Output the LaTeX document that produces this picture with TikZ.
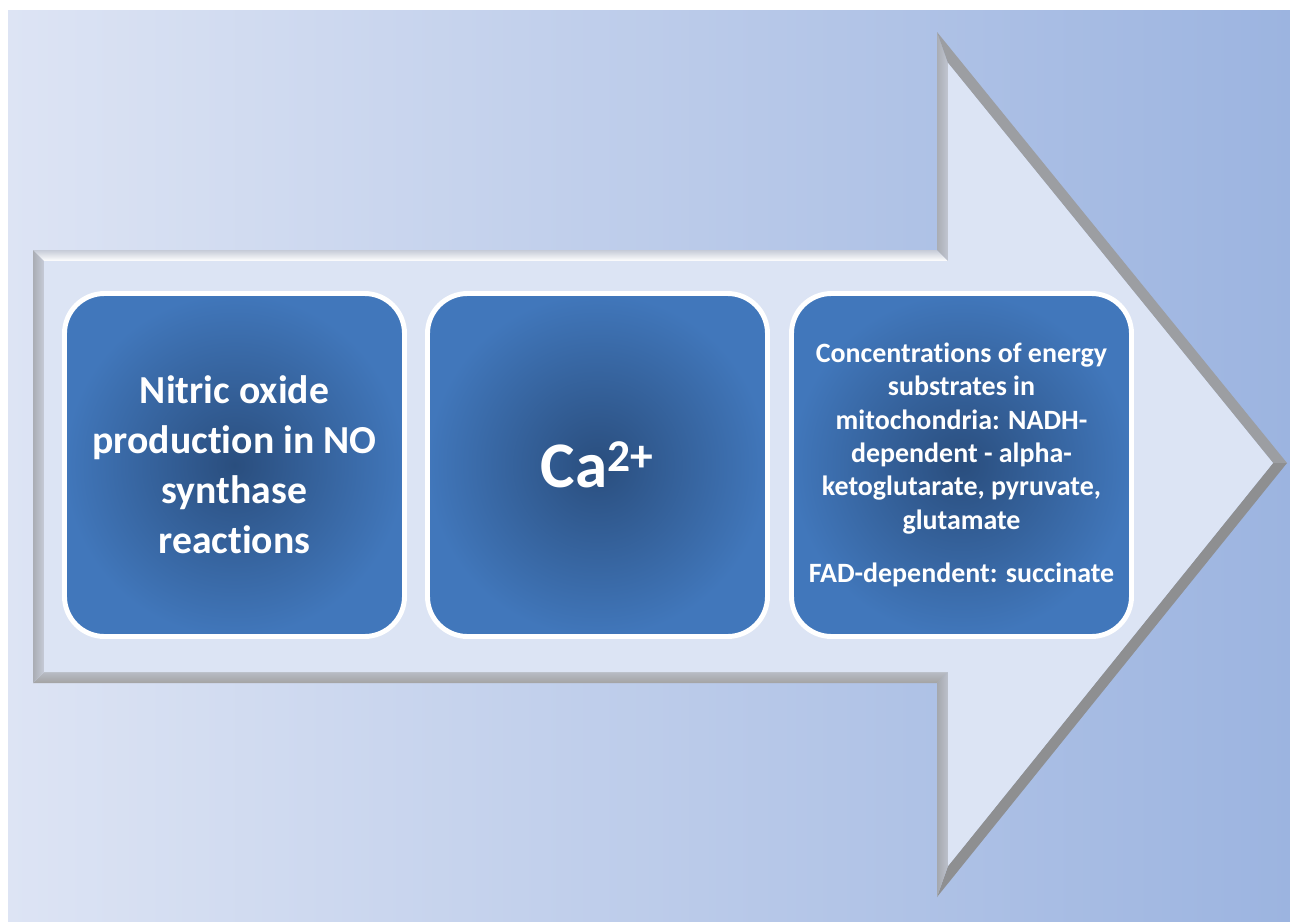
\documentclass[tikz,border=0pt]{standalone}
\usepackage{fontspec}
\setmainfont{Carlito}[Ligatures=NoCommon]
\usetikzlibrary{positioning}

\definecolor{bgleft}{HTML}{DDE4F4}
\definecolor{bgright}{HTML}{9CB4E0}
\definecolor{arrowface}{HTML}{DCE4F4}
\definecolor{boxinner}{HTML}{2A4E7E}
\definecolor{boxouter}{HTML}{4177BB}

\tikzset{
  stagebox/.style={rectangle, rounded corners=8mm, draw=white, line width=2.8pt,
    inner color=boxinner, outer color=boxouter, text=white,
    align=center, minimum width=6.8cm, minimum height=6.86cm, inner sep=0pt},
  bevel/.style={draw=none}
}

\begin{document}
\begin{tikzpicture}[x=0.2mm, y=-0.2mm]
    \useasboundingbox (0,0) rectangle (1290,922);
    \fill[white] (0,0) rectangle (1290,922);

    % Background
    \shade[left color=bgleft, right color=bgright] (8,10) rectangle (1290,922);

    % Big arrow: outer outline and bevel strips
    \coordinate (A) at (33,250);  \coordinate (a) at (44,261);
    \coordinate (B) at (937,250); \coordinate (b) at (948,261);
    \coordinate (C) at (937,32);  \coordinate (c) at (948,63);
    \coordinate (D) at (1287,463); \coordinate (d) at (1273,463);
    \coordinate (E) at (937,897); \coordinate (e) at (948,866);
    \coordinate (F) at (937,683); \coordinate (f) at (948,672);
    \coordinate (G) at (33,683);  \coordinate (g) at (44,672);

    \shade[bevel, top color=gray!25!bgleft, bottom color=white] (A) -- (B) -- (b) -- (a) -- cycle;
    \shade[bevel, left color=gray!55!bgleft, right color=gray!30!bgleft] (B) -- (C) -- (c) -- (b) -- cycle;
    \fill[bevel, gray!70!bgleft] (C) -- (D) -- (d) -- (c) -- cycle;
    \fill[bevel, gray!85!bgleft] (D) -- (E) -- (e) -- (d) -- cycle;
    \shade[bevel, left color=gray!60!bgleft, right color=gray!35!bgleft] (E) -- (F) -- (f) -- (e) -- cycle;
    \shade[bevel, top color=gray!40!bgleft, bottom color=gray!110!black!80] (F) -- (G) -- (g) -- (f) -- cycle;
    \shade[bevel, left color=gray!55!bgleft, right color=gray!25!bgleft] (G) -- (A) -- (a) -- (g) -- cycle;

    % Arrow face
    \fill[arrowface] (a) -- (b) -- (c) -- (d) -- (e) -- (f) -- (g) -- cycle;

    % Stages
    \node[stagebox, font=\bfseries\fontsize{22.6}{28.5}\selectfont] (nitric) at (234.5,465)
      {Nitric oxide\\production in NO\\synthase\\reactions};
    \node[stagebox, font=\bfseries\fontsize{37}{44}\selectfont] (calcium) at (597.5,465)
      {Ca\textsuperscript{2+}};
    \node[stagebox, font=\bfseries\fontsize{15.9}{19}\selectfont] (substrates) at (961.5,465)
      {Concentrations of energy\\substrates in\\mitochondria: NADH-\\dependent - alpha-\\ketoglutarate, pyruvate,\\glutamate\\[11.5pt]FAD-dependent: succinate};
\end{tikzpicture}
\end{document}
